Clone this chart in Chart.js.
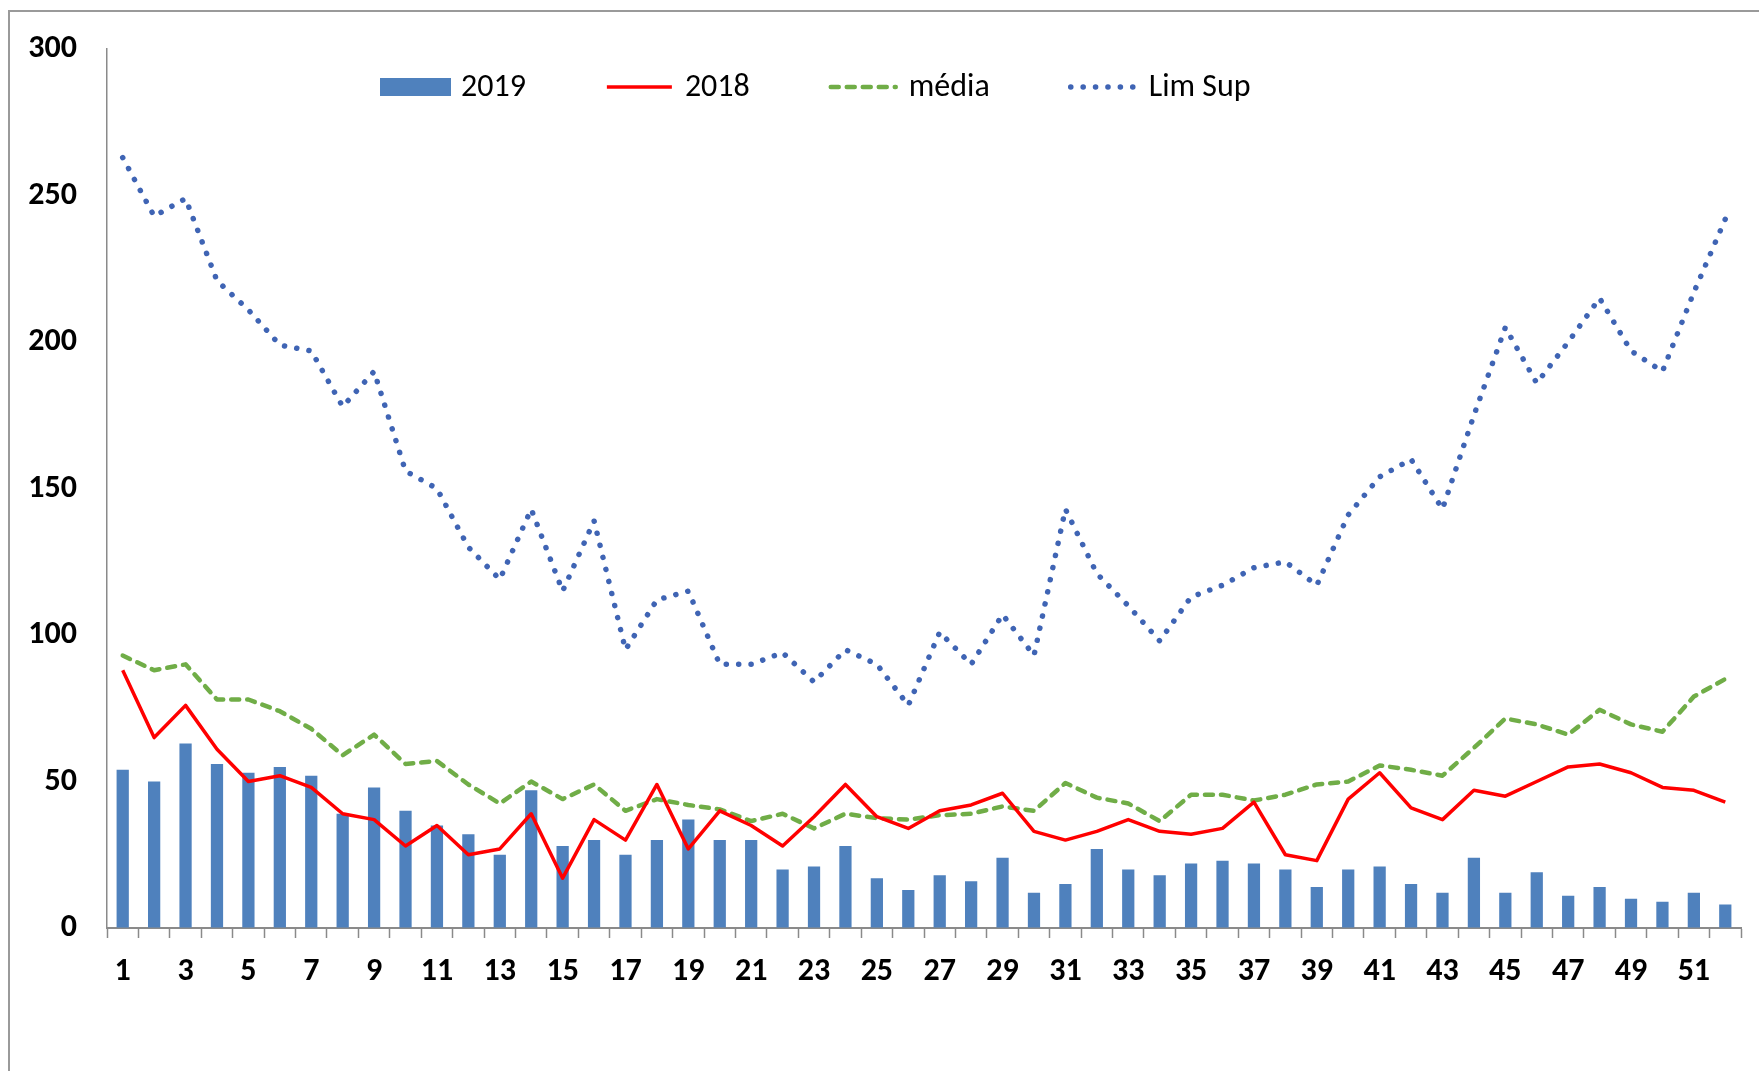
<!DOCTYPE html>
<html>
<head>
<meta charset="utf-8">
<script src="https://cdn.jsdelivr.net/npm/chart.js@4/dist/chart.umd.min.js"></script>
<style>
body{margin:0;background:#fff;}
#frame{position:absolute;left:8px;top:10px;width:1800px;height:1100px;border-left:2px solid #9a9a9a;border-top:2px solid #9a9a9a;}
#wrap{position:absolute;left:0;top:0;width:1759px;height:1071px;}
</style>
</head>
<body>
<div id="frame"></div>
<div id="wrap"><canvas id="grafico"></canvas></div>
<script>
const semanas=[]
for(let i=1;i<=52;i++) semanas.push(String(i))

const casos2019=[54,50,63,56,53,55,52,39,48,40,35,32,25,47,28,30,25,30,37,30,30,20,21,28,17,13,18,16,24,12,15,27,20,18,22,23,22,20,14,20,21,15,12,24,12,19,11,14,10,9,12,8]
const casos2018=[88,65,76,61,50,52,48,39,37,28,35,25,27,39,17,37,30,49,27,40,35,28,38,49,38,34,40,42,46,33,30,33,37,33,32,34,43,25,23,44,53,41,37,47,45,50,55,56,53,48,47,43]
const media=[93,88,90,78,78,74,68,59,66,56,57,49,42.5,50,44,49,40,44,42,40.5,36.5,39,34,39,37.5,37,38.5,39,41.5,40,49.5,44.5,42.5,36.5,45.5,45.5,43.5,45.5,49,50,55.5,54,52,61.5,71.5,69.5,66,74.5,69.5,67,79,85]
const limSup=[263,243,249,221,211,199,197,178,190,156,150,130,119,143,115,139,95,112,115,90,90,94,84,95,90,76,101,90,107,93,143,121,110,98,113,117,123,125,117,141,154,160,143,175,205,186,200,215,197,190,217,242]

const yTicks=[0,50,100,150,200,250,300]

const FONT="Calibri, Carlito, 'Open Sans', sans-serif"
const CINZA="#8a8a8a"

// legenda desenhada dentro da área do gráfico, como no Excel
const legendaDentro={
id:"legendaDentro",
afterDraw(chart){
const ctx=chart.ctx
let x=380
const y=87
ctx.save()
ctx.font="32px "+FONT
ctx.textBaseline="middle"
ctx.textAlign="left"
chart.data.datasets.forEach(ds=>{
if(ds.type==="line"){
ctx.beginPath()
ctx.strokeStyle=ds.borderColor
ctx.lineWidth=ds.borderWidth
ctx.lineCap=ds.borderCapStyle||"butt"
ctx.setLineDash(ds.borderDash||[])
ctx.moveTo(x+3,y)
ctx.lineTo(x+68,y)
ctx.stroke()
ctx.setLineDash([])
}else{
ctx.fillStyle=ds.backgroundColor
ctx.fillRect(x,y-9,71,18)
}
x+=81
ctx.fillStyle="#000"
ctx.fillText(ds.label,x,y+1)
x+=ctx.measureText(ds.label).width+78
})
ctx.restore()
}
}

new Chart(document.getElementById("grafico"),{
type:"bar",
data:{
labels:semanas,
datasets:[{
label:"2019",
data:casos2019,
backgroundColor:"#4f81bd",
barPercentage:0.39,
categoryPercentage:1,
order:4
},{
type:"line",
label:"2018",
data:casos2018,
borderColor:"#ff0000",
borderWidth:3.5,
borderJoinStyle:"round",
pointRadius:0,
tension:0,
fill:false,
order:1
},{
type:"line",
label:"média",
data:media,
borderColor:"#70ad47",
borderWidth:4.5,
borderDash:[8,8],
borderCapStyle:"round",
borderJoinStyle:"round",
pointRadius:0,
tension:0,
fill:false,
order:2
},{
type:"line",
label:"Lim Sup",
data:limSup,
borderColor:"#3f64b4",
borderWidth:5.5,
borderDash:[0.1,12.3],
borderCapStyle:"round",
borderJoinStyle:"round",
pointRadius:0,
tension:0,
fill:false,
order:3
}]
},
options:{
responsive:true,
maintainAspectRatio:false,
animation:false,
layout:{padding:{left:0,right:18,top:43,bottom:80}},
plugins:{
legend:{display:false},
tooltip:{enabled:false}
},
scales:{
x:{
grid:{drawOnChartArea:false,drawTicks:true,tickLength:10,tickColor:CINZA,tickWidth:1.5,offset:true},
border:{display:true,color:CINZA,width:2},
ticks:{
autoSkip:false,
maxRotation:0,
padding:15,
color:"#000",
font:{family:FONT,size:32,weight:"bold"},
callback:(v,i)=>i%2===0?semanas[i]:""
},
afterFit(scale){scale.height=63}
},
y:{
min:yTicks[0],
max:yTicks[yTicks.length-1],
grid:{drawOnChartArea:false,drawTicks:false},
border:{display:true,color:CINZA,width:1.5},
ticks:{
stepSize:50,
padding:30,
color:"#000",
font:{family:FONT,size:32,weight:"bold"}
},
afterFit(scale){scale.width=107}
}
}
},
plugins:[legendaDentro]
})
</script>
</body>
</html>
